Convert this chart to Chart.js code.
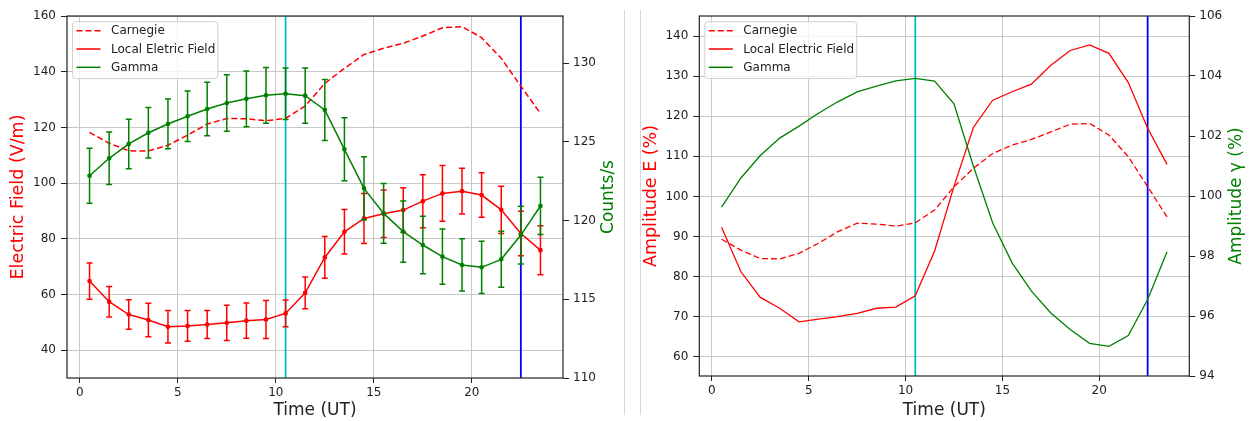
<!DOCTYPE html>
<html>
<head>
<meta charset="utf-8">
<title>Electric field and gamma</title>
<script src="https://cdn.jsdelivr.net/npm/chart.js@4.4.1/dist/chart.umd.min.js"></script>
<style>
  body { margin: 0; background: #fff; }
  #wrap { position: relative; width: 1251px; height: 421px; overflow: hidden; }
  .sep { position: absolute; top: 10px; height: 405px; width: 1px; background: #d6d6d6; }
  #leftBox { position: absolute; left: 0; top: 0; width: 622px; height: 421px; }
  #rightBox { position: absolute; left: 636px; top: 0; width: 615px; height: 421px; }
</style>
</head>
<body>
<div id="wrap">
  <div class="sep" style="left:624px"></div>
  <div class="sep" style="left:640px"></div>
  <div id="leftBox"><canvas id="leftChart"></canvas></div>
  <div id="rightBox"><canvas id="rightChart"></canvas></div>
</div>
<script>
// hour of day (UT), one value per hourly bin
const hours = [0.5, 1.5, 2.5, 3.5, 4.5, 5.5, 6.5, 7.5, 8.5, 9.5, 10.5, 11.5,
               12.5, 13.5, 14.5, 15.5, 16.5, 17.5, 18.5, 19.5, 20.5, 21.5, 22.5, 23.5];

// left panel: absolute values
const carnegieL = [118.2, 114.3, 111.6, 111.5, 113.6, 117.2, 121.2, 123.2, 123.1, 122.4, 123.2, 127.7,
                   135.8, 141.2, 146.2, 148.4, 150.2, 152.8, 155.8, 156.2, 152.2, 144.8, 134.8, 125.0];
const fieldL = [64.8, 57.4, 52.8, 50.8, 48.4, 48.7, 49.2, 49.8, 50.6, 51.0, 53.2, 60.6,
                73.3, 82.5, 87.3, 89.0, 90.3, 93.5, 96.3, 97.1, 95.7, 90.4, 81.9, 75.9];
const fieldErrL = [6.5, 5.5, 5.3, 6.0, 5.8, 5.5, 5.0, 6.3, 6.3, 6.8, 4.8, 5.7,
                   7.5, 8.0, 9.0, 8.5, 8.0, 9.5, 10.0, 8.2, 8.0, 8.5, 8.0, 8.8];
const gammaL = [122.85, 123.96, 124.87, 125.58, 126.14, 126.63, 127.09, 127.47, 127.74, 127.96, 128.06, 127.94,
                127.03, 124.53, 122.05, 120.46, 119.3, 118.45, 117.71, 117.18, 117.03, 117.54, 119.08, 120.93];
const gammaErrL = [1.75, 1.67, 1.57, 1.6, 1.58, 1.6, 1.7, 1.8, 1.77, 1.77, 1.63, 1.75,
                   1.94, 2.0, 2.0, 1.9, 1.95, 1.83, 1.76, 1.66, 1.66, 1.78, 1.83, 1.82];

// right panel: amplitudes in %
const carnegieR = [89.3, 86.6, 84.5, 84.4, 85.8, 88.3, 91.2, 93.3, 93.1, 92.6, 93.4, 96.6,
                   102.4, 107.0, 110.7, 112.8, 114.2, 116.1, 118.0, 118.2, 115.3, 109.9, 102.4, 94.9];
const fieldR = [92.3, 81.2, 74.8, 72.1, 68.7, 69.4, 70.0, 70.8, 72.1, 72.4, 75.2, 86.4,
                102.5, 117.2, 124.0, 126.1, 128.0, 132.7, 136.4, 137.8, 135.7, 128.4, 117.0, 108.0];
const gammaR = [99.63, 100.6, 101.35, 101.93, 102.33, 102.76, 103.14, 103.47, 103.66, 103.84, 103.92, 103.83,
                103.07, 101.0, 99.1, 97.77, 96.83, 96.1, 95.55, 95.09, 94.99, 95.35, 96.55, 98.14];

// tick labels
const timeTicks = [0, 5, 10, 15, 20];
const fieldTicks = [40, 60, 80, 100, 120, 140, 160];
const countTicks = [110, 115, 120, 125, 130];
const ampETicks = [60, 70, 80, 90, 100, 110, 120, 130, 140];
const ampGTicks = [94, 96, 98, 100, 102, 104, 106];

// vertical markers
const markerTimes = [10.5, 22.5];
const markerColors = ['#00bfbf', '#0000ff'];

const FONT = '"DejaVu Sans", sans-serif';
const gridColor = '#c8c8c8';
const axisColor = '#222';

// ---- plugins ----
const errorBars = {
    id: 'errorBars',
    afterDatasetDraw(chart, args) {
        const ds = chart.data.datasets[args.index];
        if (!ds.errors) return;
        const xs = chart.scales[args.meta.xAxisID];
        const ys = chart.scales[args.meta.yAxisID];
        const ctx = chart.ctx;
        ctx.save();
        ctx.strokeStyle = ds.borderColor;
        ctx.lineWidth = 1.5;
        ds.data.forEach((p, i) => {
            const x = xs.getPixelForValue(p.x);
            const top = ys.getPixelForValue(p.y + ds.errors[i]);
            const bot = ys.getPixelForValue(p.y - ds.errors[i]);
            ctx.beginPath();
            ctx.moveTo(x, top); ctx.lineTo(x, bot);
            ctx.moveTo(x - 3, top); ctx.lineTo(x + 3, top);
            ctx.moveTo(x - 3, bot); ctx.lineTo(x + 3, bot);
            ctx.stroke();
        });
        ctx.restore();
    }
};

const timeMarkers = {
    id: 'timeMarkers',
    beforeDatasetsDraw(chart) {
        const { ctx, chartArea, scales } = chart;
        markerTimes.forEach((t, i) => {
            const x = scales.x.getPixelForValue(t);
            ctx.save();
            ctx.strokeStyle = markerColors[i];
            ctx.lineWidth = 1.8;
            ctx.beginPath();
            ctx.moveTo(x, chartArea.top);
            ctx.lineTo(x, chartArea.bottom);
            ctx.stroke();
            ctx.restore();
        });
    }
};

// right-hand axis title, read bottom to top like matplotlib
const sideTitle = {
    id: 'sideTitle',
    afterDraw(chart, args, opts) {
        const s = chart.scales[opts.axis];
        if (!s) return;
        const ctx = chart.ctx;
        ctx.save();
        ctx.translate(s.right - opts.offset, (s.top + s.bottom) / 2);
        ctx.rotate(-Math.PI / 2);
        ctx.font = '17px ' + FONT;
        ctx.fillStyle = opts.color;
        ctx.textAlign = 'center';
        ctx.textBaseline = 'middle';
        ctx.fillText(opts.text, 0, 0);
        ctx.restore();
    }
};

// frame + legend box in the upper left corner
const frameLegend = {
    id: 'frameLegend',
    afterDraw(chart) {
        const { ctx, chartArea } = chart;
        ctx.save();
        ctx.strokeStyle = axisColor;
        ctx.lineWidth = 1.2;
        ctx.strokeRect(chartArea.left, chartArea.top, chartArea.right - chartArea.left, chartArea.bottom - chartArea.top);

        const items = chart.data.datasets.filter(d => d.label);
        ctx.font = '12px ' + FONT;
        const w = Math.max(...items.map(d => ctx.measureText(d.label).width)) + 41;
        const rowH = 18.3;
        const x0 = chartArea.left + 5.5, y0 = chartArea.top + 5.7;
        const h = items.length * rowH + 2;
        ctx.beginPath();
        ctx.roundRect(x0, y0, w, h, 3);
        ctx.fillStyle = 'rgba(255,255,255,0.8)';
        ctx.fill();
        ctx.strokeStyle = '#d0d0d0';
        ctx.lineWidth = 1;
        ctx.stroke();
        items.forEach((d, i) => {
            const y = y0 + 9 + i * rowH;
            ctx.strokeStyle = d.borderColor;
            ctx.lineWidth = 1.5;
            ctx.setLineDash(d.borderDash || []);
            ctx.beginPath();
            ctx.moveTo(x0 + 4, y);
            ctx.lineTo(x0 + 28, y);
            ctx.stroke();
            ctx.setLineDash([]);
            ctx.fillStyle = '#222';
            ctx.textBaseline = 'middle';
            ctx.fillText(d.label, x0 + 38.5, y + 0.5);
        });
        ctx.restore();
    }
};

function pts(values) {
    return hours.map((h, i) => ({ x: h, y: values[i] }));
}

function fixedTicks(list) {
    return s => { s.ticks = list.map(v => ({ value: v })); };
}

function xScale(height) {
    return {
        type: 'linear', min: -0.65, max: 24.65,
        afterBuildTicks: fixedTicks(timeTicks),
        afterFit: s => { s.height = height; },
        grid: { color: gridColor, tickColor: axisColor, tickLength: 5 },
        border: { display: false },
        ticks: { color: axisColor, font: { family: FONT, size: 12 }, padding: 3, maxRotation: 0 },
        title: { display: true, text: 'Time (UT)', color: axisColor,
                 font: { family: FONT, size: 17, lineHeight: 1.2 }, padding: { top: 0, bottom: 0 } }
    };
}

function yScale(pos, min, max, list, width, title, color, titlePad) {
    const left = pos === 'left';
    return {
        type: 'linear', position: pos, min: min, max: max,
        afterBuildTicks: fixedTicks(list),
        afterFit: s => { s.width = width; },
        grid: { color: gridColor, tickColor: axisColor, tickLength: 6, drawOnChartArea: left },
        border: { display: false },
        ticks: { color: axisColor, font: { family: FONT, size: 12 }, padding: left ? 5 : 4 },
        title: { display: left, text: title, color: color,
                 font: { family: FONT, size: 17.5, lineHeight: 1.2 }, padding: { top: titlePad, bottom: 0 } }
    };
}

function lineSet(label, values, color, axis, opts) {
    return Object.assign({
        label: label,
        data: pts(values),
        yAxisID: axis,
        borderColor: color,
        backgroundColor: color,
        borderWidth: 1.5,
        pointRadius: 0,
        tension: 0,
        fill: false
    }, opts);
}

function baseOptions(scales, side) {
    return {
        responsive: true,
        maintainAspectRatio: false,
        animation: false,
        layout: { padding: { top: 16, left: 0, right: 0, bottom: 0 } },
        plugins: { legend: { display: false }, tooltip: { enabled: false }, sideTitle: side },
        scales: scales
    };
}

// left chart
new Chart(document.getElementById('leftChart'), {
    type: 'line',
    data: {
        datasets: [
            lineSet('Carnegie', carnegieL, '#ff0000', 'yField', { borderDash: [6, 3], order: 2 }),
            lineSet('Local Eletric Field', fieldL, '#ff0000', 'yField',
                    { pointRadius: 1.6, errors: fieldErrL, order: 1 }),
            lineSet('Gamma', gammaL, '#008000', 'yCount',
                    { pointRadius: 1.6, errors: gammaErrL, order: 0 })
        ]
    },
    options: baseOptions({
        x: xScale(43),
        yField: yScale('left', 30, 160, fieldTicks, 67, 'Electric Field (V/m)', '#ff0000', 8),
        yCount: yScale('right', 110, 133, countTicks, 59)
    }, { axis: 'yCount', text: 'Counts/s', color: '#008000', offset: 13.5 }),
    plugins: [timeMarkers, errorBars, frameLegend, sideTitle]
});

// right chart
new Chart(document.getElementById('rightChart'), {
    type: 'line',
    data: {
        datasets: [
            lineSet('Carnegie', carnegieR, '#ff0000', 'yAmpE', { borderDash: [6, 3], borderWidth: 1.3, order: 2 }),
            lineSet('Local Electric Field', fieldR, '#ff0000', 'yAmpE', { borderWidth: 1.3, order: 1 }),
            lineSet('Gamma', gammaR, '#008000', 'yAmpG', { borderWidth: 1.3, order: 0 })
        ]
    },
    options: baseOptions({
        x: xScale(45),
        yAmpE: yScale('left', 55.2, 145, ampETicks, 63.3, 'Amplitude E (%)', '#ff0000', 5),
        yAmpG: yScale('right', 94, 106, ampGTicks, 61.7)
    }, { axis: 'yAmpG', text: 'Amplitude γ (%)', color: '#008000', offset: 14.3 }),
    plugins: [timeMarkers, frameLegend, sideTitle]
});
</script>
</body>
</html>
